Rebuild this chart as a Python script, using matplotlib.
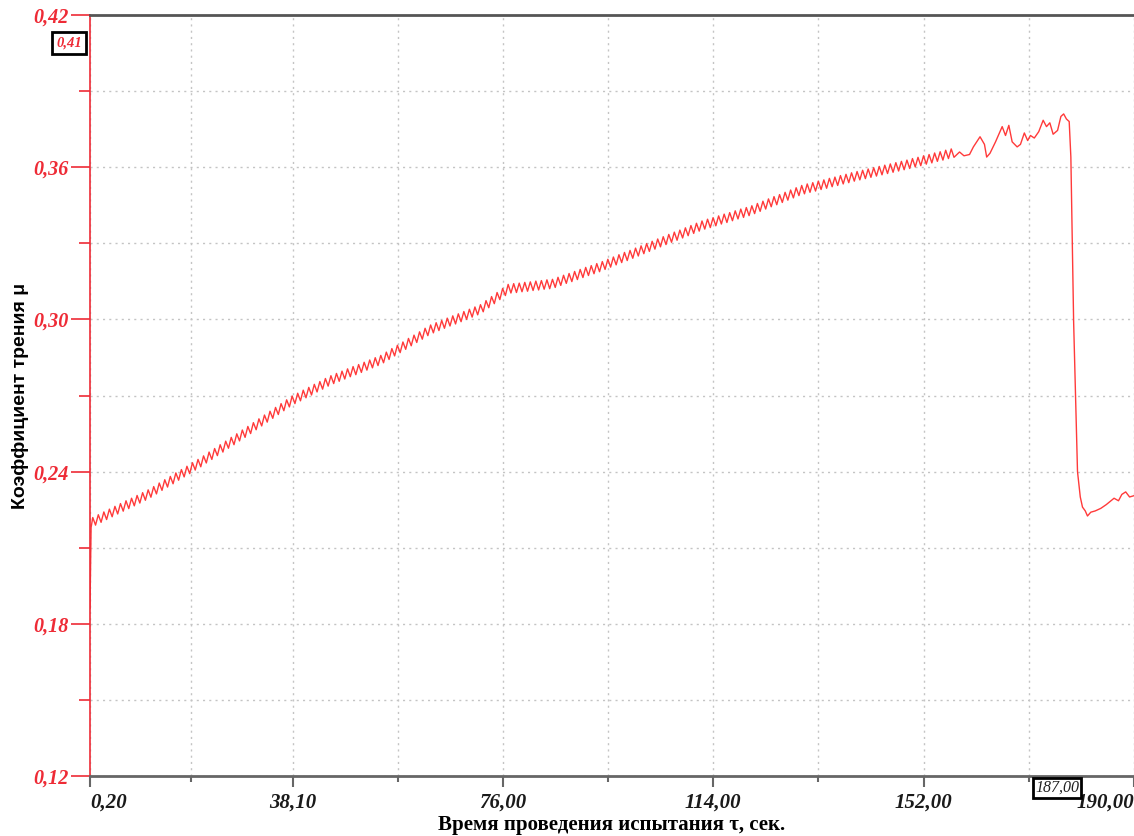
import matplotlib.pyplot as plt
from matplotlib.ticker import FixedLocator

# время, сек. / коэффициент трения
time_start = [1.5, 1.7]
mu_start = [0.186, 0.218]

# участок роста: отсчёты каждые 0,5 с, от 2,0 до 157,5 с
time_rise = [i / 2 for i in range(4, 316)]
mu_rise = [
    0.2219, 0.2189, 0.2230, 0.2200, 0.2241, 0.2211, 0.2252, 0.2222, 0.2263, 0.2233,
    0.2274, 0.2244, 0.2285, 0.2254, 0.2295, 0.2265, 0.2306, 0.2276, 0.2317, 0.2287,
    0.2328, 0.2299, 0.2341, 0.2312, 0.2355, 0.2326, 0.2368, 0.2339, 0.2381, 0.2352,
    0.2395, 0.2366, 0.2408, 0.2379, 0.2421, 0.2392, 0.2435, 0.2406, 0.2448, 0.2419,
    0.2462, 0.2434, 0.2477, 0.2448, 0.2491, 0.2463, 0.2506, 0.2477, 0.2520, 0.2492,
    0.2535, 0.2506, 0.2549, 0.2521, 0.2564, 0.2535, 0.2578, 0.2550, 0.2593, 0.2565,
    0.2608, 0.2580, 0.2623, 0.2595, 0.2638, 0.2610, 0.2653, 0.2625, 0.2668, 0.2640,
    0.2683, 0.2655, 0.2698, 0.2668, 0.2709, 0.2679, 0.2721, 0.2691, 0.2732, 0.2702,
    0.2744, 0.2714, 0.2755, 0.2725, 0.2767, 0.2737, 0.2778, 0.2747, 0.2787, 0.2756,
    0.2796, 0.2765, 0.2805, 0.2774, 0.2814, 0.2782, 0.2822, 0.2791, 0.2831, 0.2800,
    0.2840, 0.2809, 0.2849, 0.2818, 0.2858, 0.2829, 0.2871, 0.2842, 0.2885, 0.2856,
    0.2898, 0.2869, 0.2911, 0.2882, 0.2925, 0.2896, 0.2938, 0.2909, 0.2951, 0.2922,
    0.2965, 0.2936, 0.2978, 0.2947, 0.2987, 0.2956, 0.2996, 0.2965, 0.3005, 0.2974,
    0.3014, 0.2982, 0.3022, 0.2991, 0.3031, 0.3000, 0.3040, 0.3009, 0.3049, 0.3018,
    0.3058, 0.3030, 0.3074, 0.3046, 0.3090, 0.3062, 0.3106, 0.3078, 0.3122, 0.3094,
    0.3138, 0.3104, 0.3141, 0.3106, 0.3143, 0.3109, 0.3146, 0.3111, 0.3148, 0.3114,
    0.3151, 0.3116, 0.3153, 0.3119, 0.3156, 0.3121, 0.3158, 0.3126, 0.3166, 0.3134,
    0.3174, 0.3142, 0.3181, 0.3149, 0.3189, 0.3157, 0.3197, 0.3165, 0.3205, 0.3173,
    0.3212, 0.3180, 0.3220, 0.3188, 0.3228, 0.3197, 0.3237, 0.3206, 0.3246, 0.3215,
    0.3255, 0.3224, 0.3264, 0.3232, 0.3272, 0.3241, 0.3281, 0.3250, 0.3290, 0.3259,
    0.3299, 0.3268, 0.3308, 0.3277, 0.3317, 0.3286, 0.3326, 0.3295, 0.3335, 0.3304,
    0.3344, 0.3312, 0.3352, 0.3321, 0.3361, 0.3330, 0.3370, 0.3339, 0.3379, 0.3348,
    0.3388, 0.3356, 0.3395, 0.3362, 0.3401, 0.3369, 0.3408, 0.3376, 0.3415, 0.3382,
    0.3421, 0.3389, 0.3428, 0.3396, 0.3435, 0.3402, 0.3441, 0.3409, 0.3448, 0.3417,
    0.3457, 0.3426, 0.3466, 0.3435, 0.3475, 0.3444, 0.3484, 0.3452, 0.3492, 0.3461,
    0.3501, 0.3470, 0.3510, 0.3479, 0.3519, 0.3488, 0.3528, 0.3495, 0.3534, 0.3501,
    0.3539, 0.3506, 0.3545, 0.3512, 0.3550, 0.3517, 0.3556, 0.3523, 0.3561, 0.3528,
    0.3567, 0.3534, 0.3572, 0.3539, 0.3578, 0.3545, 0.3583, 0.3550, 0.3588, 0.3555,
    0.3593, 0.3560, 0.3598, 0.3565, 0.3603, 0.3570, 0.3608, 0.3575, 0.3613, 0.3580,
    0.3618, 0.3585, 0.3623, 0.3590, 0.3628, 0.3595, 0.3634, 0.3601, 0.3639, 0.3606,
    0.3645, 0.3612, 0.3650, 0.3617, 0.3656, 0.3623, 0.3661, 0.3628, 0.3667, 0.3634,
    0.3672, 0.3639,
]

time_end = [
    158.5, 159.3, 160.3, 161.0, 162.2, 163.0, 163.4, 164.0, 165.0, 166.2,
    166.8, 167.4, 168.0, 168.9, 169.5, 170.2, 170.8, 171.3, 172.0, 172.8,
    173.6, 174.2, 174.8, 175.4, 176.2, 176.8, 177.3, 177.8, 178.3, 178.6,
    179.1, 179.8, 180.3, 180.7, 181.2, 181.6, 182.2, 183.0, 184.0, 185.0,
    186.4, 187.2, 187.8, 188.5, 189.2, 190.0,
]
mu_end = [
    0.3660, 0.3645, 0.3650, 0.3680, 0.3720, 0.3690, 0.3640, 0.3655, 0.3700, 0.3760,
    0.3725, 0.3765, 0.3700, 0.3680, 0.3690, 0.3735, 0.3705, 0.3725, 0.3715, 0.3740,
    0.3785, 0.3760, 0.3775, 0.3730, 0.3745, 0.3800, 0.3810, 0.3790, 0.3780, 0.3640,
    0.2990, 0.2400, 0.2300, 0.2260, 0.2245, 0.2225, 0.2240, 0.2245, 0.2255, 0.2270,
    0.2295, 0.2285, 0.2310, 0.2320, 0.2300, 0.2305,
]

time = time_start + time_rise + time_end
mu = mu_start + mu_rise + mu_end

x_ticks = [1.5, 38.1, 76.0, 114.0, 152.0, 190.0]
x_tick_labels = ["0,20", "38,10", "76,00", "114,00", "152,00", "190,00"]
x_minor = [19.8, 57.05, 95.0, 133.0, 171.0]
y_ticks = [0.12, 0.18, 0.24, 0.30, 0.36, 0.42]
y_minor = [0.15, 0.21, 0.27, 0.33, 0.39]

RED = "#ee2b36"
LINE_RED = "#ff3a3a"

fig = plt.figure(figsize=(11.34, 8.36), dpi=100)
ax = fig.add_axes([90 / 1134, 60 / 836, 1044 / 1134, 761 / 836])

ax.plot(time, mu, color=LINE_RED, lw=1.0)

ax.set_xlim(1.5, 190)
ax.set_ylim(0.12, 0.42)

ax.set_xticks(x_ticks)
ax.set_xticklabels(x_tick_labels)
ax.xaxis.set_minor_locator(FixedLocator(x_minor))
ax.set_yticks(y_ticks)
ax.set_yticklabels([f"{v:.2f}".replace(".", ",") for v in y_ticks])
ax.yaxis.set_minor_locator(FixedLocator(y_minor))

ax.grid(True, which="both", color="#c4c4c4", linestyle=(0, (1.5, 3)), lw=1.0)

ax.spines["right"].set_visible(False)
ax.spines["left"].set_color(RED)
ax.spines["left"].set_linewidth(1.2)
ax.spines["top"].set_color("#555555")
ax.spines["top"].set_linewidth(2)
ax.spines["bottom"].set_color("#666666")
ax.spines["bottom"].set_linewidth(2)

ax.tick_params(axis="y", which="major", colors=RED, length=14, width=1.2, pad=1)
ax.tick_params(axis="y", which="minor", colors=RED, length=8, width=1.2)
ax.tick_params(axis="x", which="major", color="#666666", length=8, width=1.5, pad=4)
ax.tick_params(axis="x", which="minor", color="#666666", length=4, width=1.5)

for lab in ax.get_yticklabels():
    lab.set_fontfamily("Liberation Serif")
    lab.set_fontweight("bold")
    lab.set_fontstyle("italic")
    lab.set_fontsize(14.5)
    lab.set_color(RED)
for lab in ax.get_xticklabels():
    lab.set_fontfamily("Liberation Serif")
    lab.set_fontweight("bold")
    lab.set_fontstyle("italic")
    lab.set_fontsize(15)
    lab.set_color("#1a1a1a")
xl = ax.get_xticklabels()
xl[0].set_horizontalalignment("left")
xl[-1].set_horizontalalignment("right")

ax.set_ylabel("Коэффициент трения μ", fontfamily="Liberation Sans",
              fontweight="bold", fontsize=14)
ax.yaxis.set_label_coords(-0.067, 0.5)
ax.set_xlabel("Время проведения испытания τ, сек.", fontfamily="Liberation Serif",
              fontweight="heavy", fontsize=15)
ax.xaxis.set_label_coords(0.5, -0.064)
ax.xaxis.label.set_va("center")
ax.yaxis.label.set_va("center")

# курсорные метки
fig.text(69 / 1134, 1 - 43 / 836, "0,41", color=RED, fontsize=10.5,
         fontfamily="Liberation Serif", fontweight="bold", fontstyle="italic",
         ha="center", va="center",
         bbox=dict(boxstyle="square,pad=0.3", fc="white", ec="black", lw=2))
fig.text(1057 / 1134, 1 - 788 / 836, "187,00", color="#222222", fontsize=11.5,
         fontfamily="Liberation Serif", fontstyle="italic",
         ha="center", va="center",
         bbox=dict(boxstyle="square,pad=0.12", fc="white", ec="black", lw=2))

fig.savefig("out.png", dpi=100)
